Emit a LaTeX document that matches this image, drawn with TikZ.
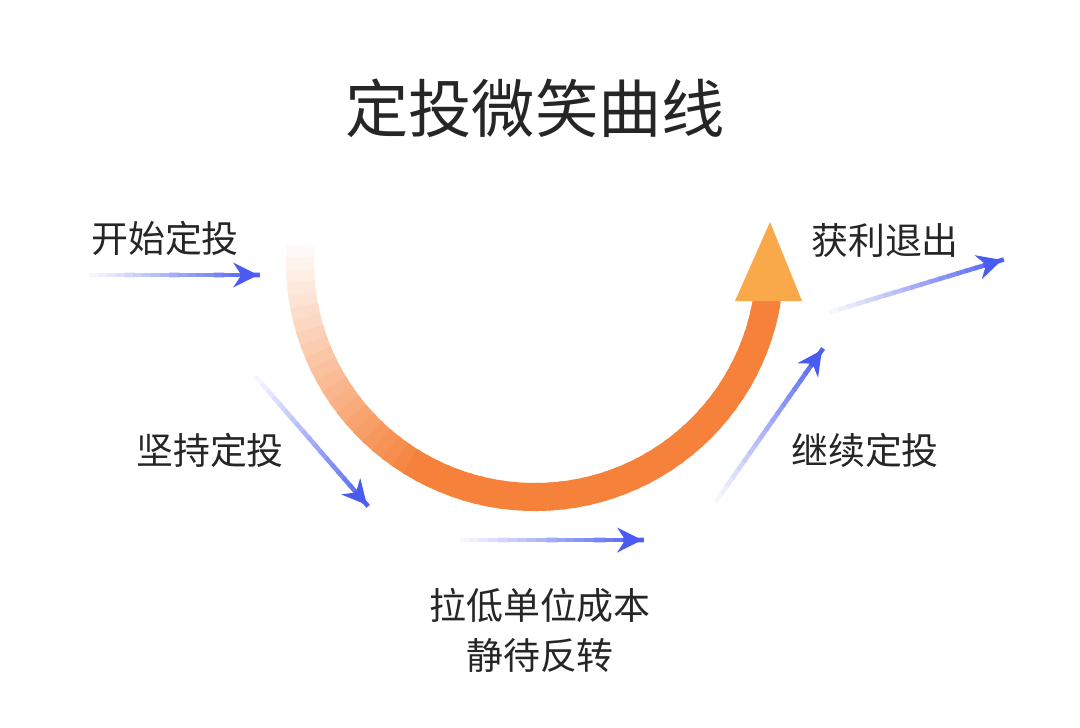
\documentclass[tikz,border=0pt]{standalone}
\usepackage{fontspec}
\setmainfont{Noto Sans CJK SC}
\usetikzlibrary{arrows.meta,calc}
\definecolor{smileorange}{HTML}{F5813A}
\definecolor{tipyellow}{HTML}{F9A84A}
\definecolor{stepblue}{HTML}{4A5CF0}
\tikzset{
  lbl/.style={font=\fontsize{10.5pt}{13pt}\selectfont, text=black!85},
  ttl/.style={font=\fontsize{18pt}{22pt}\selectfont, text=black!85},
}
% gradient arrow from (#1) to (#2)
\newcommand{\fadearrow}[2]{%
  \foreach \i in {0,...,19}{
    \pgfmathsetmacro{\ta}{\i/20}\pgfmathsetmacro{\tb}{(\i+1.2)/20}
    \pgfmathsetmacro{\pc}{\i*5}
    \draw[stepblue!\pc!white, line width=1.3pt] ($(#1)!\ta!(#2)$) -- ($(#1)!\tb!(#2)$);
  }
  \draw[stepblue, line width=1.3pt, -{Stealth[length=7pt,width=7pt]}] ($(#1)!0.9!(#2)$) -- (#2);
}
\begin{document}
\begin{tikzpicture}[x=0.01cm,y=-0.01cm]
\useasboundingbox (0,0) rectangle (1080,727);
\fill[white] (0,0) rectangle (1080,727);
\node[ttl] (title) at (535,108) {定投微笑曲线};
\node[lbl] (start) at (165,238) {开始定投};
\node[lbl] (keep) at (210,450) {坚持定投};
\node[lbl] (low) at (540,605) {拉低单位成本};
\node[lbl] (wait) at (540,655) {静待反转};
\node[lbl] (cont) at (865,450) {继续定投};
\node[lbl] (exit) at (885,240) {获利退出};
% blue steps
\coordinate (a1) at (80,275);  \coordinate (a2) at (258,275);
\coordinate (b1) at (250,370); \coordinate (b2) at (367,505);
\coordinate (c1) at (450,540); \coordinate (c2) at (642,540);
\coordinate (d1) at (710,510); \coordinate (d2) at (822,350);
\coordinate (e1) at (820,315); \coordinate (e2) at (1002,260);
\fadearrow{a1}{a2}
\fadearrow{b1}{b2}
\fadearrow{c1}{c2}
\fadearrow{d1}{d2}
\fadearrow{e1}{e2}
% smile arc
\coordinate (ctr) at (535,262);
\foreach \i in {0,...,59}{
  \pgfmathsetmacro{\aa}{187-\i*2.95}
  \pgfmathsetmacro{\ab}{187-(\i+1.3)*2.95}
  \pgfmathsetmacro{\pc}{min(100,\i*4.5)}
  \draw[smileorange!\pc!white, line width=0.28cm] ($(ctr)+(\aa:235)$) arc[start angle=\aa, end angle=\ab, radius=235];
}
\fill[tipyellow] (735,301) -- (802,301) -- (770,222) -- cycle;
\end{tikzpicture}
\end{document}
